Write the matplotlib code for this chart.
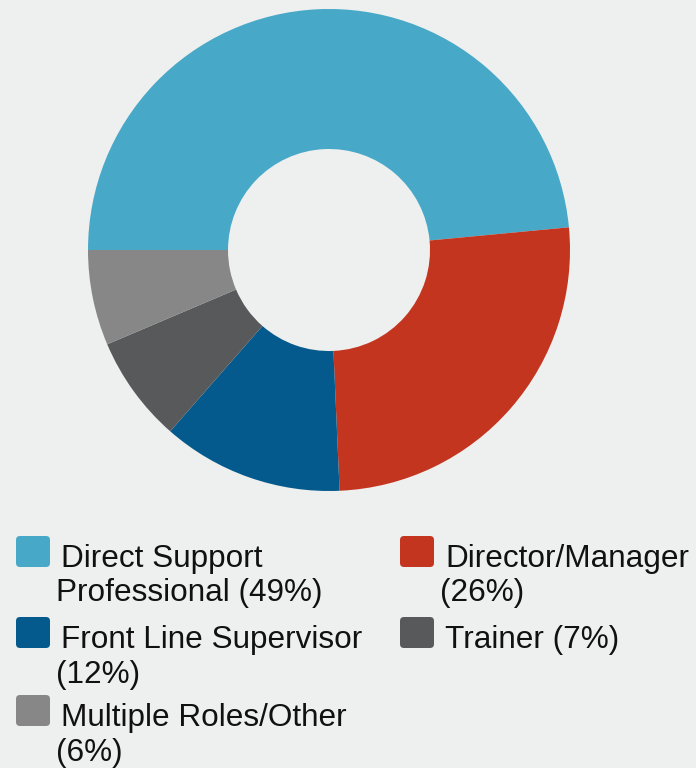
import matplotlib
matplotlib.use("Agg")
import matplotlib.pyplot as plt
from matplotlib.patches import FancyBboxPatch

categories = ["Direct Support Professional", "Director/Manager", "Front Line Supervisor",
              "Trainer", "Multiple Roles/Other"]
values = [48.5, 25.8, 12.15, 7.15, 6.4]
colors = ["#48a8c8", "#c43520", "#045a8c", "#58595b", "#878787"]
legend_lines = [
    ["Direct Support", "Professional (49%)"],
    ["Director/Manager", "(26%)"],
    ["Front Line Supervisor", "(12%)"],
    ["Trainer (7%)"],
    ["Multiple Roles/Other", "(6%)"],
]

BG = "#eef0ef"
W, H = 696, 768
fig = plt.figure(figsize=(W / 100, H / 100), dpi=100)
fig.patch.set_facecolor(BG)

cx, cy, r = 329, 250, 241
ax = fig.add_axes([(cx - r) / W, (H - cy - r) / H, 2 * r / W, 2 * r / H])
ax.set_facecolor(BG)
ax.pie(values, colors=colors, startangle=180, counterclock=False, radius=1,
       wedgeprops=dict(width=1 - 101 / 241, edgecolor="none"))
ax.set_xlim(-1, 1)
ax.set_ylim(-1, 1)
ax.axis("off")

# legend in pixel coordinates
lax = fig.add_axes([0, 0, 1, 1])
lax.set_xlim(0, W)
lax.set_ylim(H, 0)
lax.axis("off")
lax.patch.set_alpha(0)

col_x = [16, 400]
row_base = [567, 648, 726]
line_gap = 34.5
for i, lines in enumerate(legend_lines):
    col = i % 2
    row = i // 2
    x0 = col_x[col]
    yb = row_base[row]
    lax.add_patch(FancyBboxPatch((x0, yb - 31), 34, 31,
                                 boxstyle="round,pad=0,rounding_size=4",
                                 facecolor=colors[i], edgecolor="none"))
    for j, t in enumerate(lines):
        lax.text(x0 + (45 if j == 0 else 40), yb + j * line_gap, t,
                 fontsize=22.7, family=["Liberation Sans", "DejaVu Sans"],
                 color="#111111", va="baseline", ha="left")

fig.savefig("out.png", dpi=100, facecolor=BG)
